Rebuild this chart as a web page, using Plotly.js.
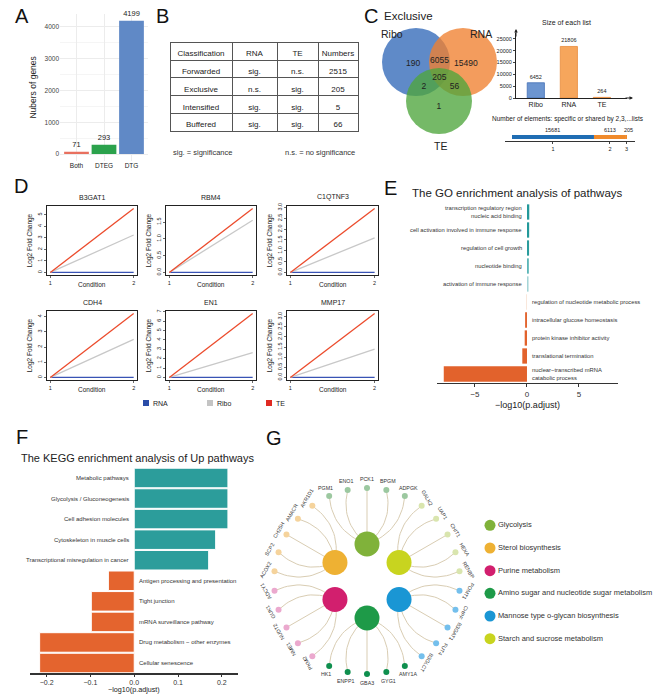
<!DOCTYPE html>
<html><head><meta charset="utf-8">
<script src="https://cdn.plot.ly/plotly-3.0.1.min.js"></script>
<style>html,body{margin:0;padding:0;background:#fff}#chart{width:655px;height:695px}</style>
</head><body><div id="chart"></div>
<script>
const W=655,H=695;
const FONT='Liberation Sans, Arial, Helvetica, sans-serif';

// ---------- Panel A data
const catsA=['Both','DTEG','DTG'];
const valsA=[71,293,4199];
// ---------- Panel B data
const tableHeader=['Classification','RNA','TE','Numbers'];
const tableClass=['Forwarded','Exclusive','Intensified','Buffered'];
const tableRNA=['sig.','n.s.','sig.','sig.'];
const tableTE=['n.s.','sig.','sig.','sig.'];
const tableNum=[2515,205,5,66];
// ---------- Panel C data
const vennSets=['Ribo','RNA','TE'];
const vennRegionSets=[[0],[0,1],[1],[0,1,2],[0,2],[1,2],[2]];
const vennCounts=[190,6055,15490,205,2,56,1];
const listNames=['Ribo','RNA','TE'];
const listSizes=[6452,21806,264];
const sharedLabels=['1','2','3'];
const sharedCounts=[15681,6113,205];
// ---------- Panel D data
const dGenes=['B3GAT1','RBM4','C1QTNF3','CDH4','EN1','MMP17'];
const dCond=[1,2];
const dRNA=[[0,0],[0,0],[0,0],[0,0],[0,0],[0,0]];
const dRibo=[[0,3.25],[0,1.55],[0,1.6],[0,2.5],[0,2.65],[0,1.4]];
const dTE=[[0,5.55],[0,1.9],[0,2.95],[0,4.2],[0,6.8],[0,3.15]];
const dSeries=['RNA','Ribo','TE'];
// ---------- Panel E data
const goTerms=['transcription regulatory region<br>nucleic acid binding','cell activation involved in immune response','regulation of cell growth','nucleotide binding','activation of immune response','regulation of nucleotide metabolic process','intracellular glucose homeostasis','protein kinase inhibitor activity','translational termination','nuclear−transcribed mRNA<br>catabolic process'];
const goVals=[0.22,0.21,0.2,0.18,0.15,-0.06,-0.18,-0.22,-0.45,-8.0];
// ---------- Panel F data
const keggTerms=['Metabolic pathways','Glycolysis / Gluconeogenesis','Cell adhesion molecules','Cytoskeleton in muscle cells','Transcriptional misregulation in cancer','Antigen processing and presentation','Tight junction','mRNA surveillance pathway','Drug metabolism − other enzymes','Cellular senescence'];
const keggVals=[0.214,0.214,0.214,0.186,0.170,-0.059,-0.098,-0.098,-0.216,-0.216];
// ---------- Panel G data
const pathways=['Glycolysis','Sterol biosynthesis','Purine metabolism','Amino sugar and nucleotide sugar metabolism','Mannose type o-glycan biosynthesis','Starch and sucrose metabolism'];
const genes=['ADPGK','BPGM','PCK1','ENO1','PGM1','AKR1D1','AMACR','CH25H','SCP2','ACOX2','ADCY1','GUK1','NUDT2','NME1','PKM2','HK1','ENPP1','GBA3','GYG1','AMY1A','B3GLCT','FUT4','B3GAT1','CHPF','POMT1','RENBP','HEXA','CHIT1','UAP1','GALK2'];
const geneGroup=[0,0,0,0,0,1,1,1,1,1,2,2,2,2,2,3,3,3,3,3,4,4,4,4,4,5,5,5,5,5];

// ---------- styles
const colorsA=['#E8705F','#2BA24C','#6089C6'];
const hubColors=['#80B23A','#EEB133','#D21F6E','#1E9A48','#1A96D4','#C8D41F'];
const leafColors=['#9CC8A0','#F5D39C','#EBA9CE','#0F8F4E','#74BFEC','#D9E5AE'];
const groupLabelAngle=[0,-60,-120,0,120,60];
const dColors=['#3953B5','#C8C8C8','#EC4B2C'];
const goColors=['#23999A','#23999A','#2A9C9D','#5DB6B8','#A5D5D7','#F6D8C5','#E2622C','#E2622C','#E2622C','#E2622C'];

function DX(a,b){return [a/W,b/W];}
function DY(t,b){return [1-b/H,1-t/H];}
function PX(x){return x/W;}
function PY(y){return 1-y/H;}
const traces=[],shapes=[],ann=[];
const layout={width:W,height:H,margin:{l:0,r:0,t:0,b:0},paper_bgcolor:'#fff',plot_bgcolor:'rgba(0,0,0,0)',
  showlegend:false,font:{family:FONT,color:'#222'},barmode:'overlay'};
function A(o){const f=Object.assign({family:FONT,size:8,color:'#222'},o.font||{});delete o.font;
  ann.push(Object.assign({xref:'paper',yref:'paper',showarrow:false,font:f},o));}
function hidden(dom,rng){return {domain:dom,range:rng,visible:false,fixedrange:true};}

// panel letters
[['A',22,15.5],['B',162,15.5],['C',371,15.5],['D',21,186],['E',391,188],['F',22,437],['G',274,438]].forEach(l=>
  A({text:l[0],x:PX(l[1]),y:PY(l[2]),xanchor:'center',yanchor:'middle',font:{size:20,color:'#111'}}));

// ================= A
traces.push({type:'bar',x:catsA,y:valsA,marker:{color:colorsA},width:0.9,text:valsA.map(String),
  textposition:'outside',textfont:{size:7.5,color:'#222'},cliponaxis:false,xaxis:'x',yaxis:'y',hoverinfo:'skip'});
layout.xaxis={domain:DX(60,148),range:[-0.6,2.6],type:'category',showgrid:true,gridcolor:'#ececec',
  tickfont:{size:6.5,color:'#222'},ticks:'',zeroline:false,fixedrange:true,anchor:'y'};
layout.yaxis={domain:DY(14,160.7),range:[-210,4409],tickvals:[0,1000,2000,3000,4000],showgrid:true,gridcolor:'#ececec',
  minor:{tickvals:[500,1500,2500,3500],showgrid:true,gridcolor:'#f5f5f5'},tickfont:{size:6.5,color:'#444'},
  zeroline:false,title:{text:'Nubers of genes',font:{size:8.5,color:'#222'},standoff:6},anchor:'x',fixedrange:true};

// ================= B
traces.push({type:'table',domain:{x:DX(170,358),y:DY(42,136)},columnwidth:[62,45,41,40],
  header:{values:tableHeader,align:'center',height:18,line:{color:'#555',width:1},fill:{color:'#fff'},font:{family:FONT,size:8,color:'#222'}},
  cells:{values:[tableClass,tableRNA,tableTE,tableNum],align:'center',height:17.75,line:{color:'#555',width:1},fill:{color:'#fff'},font:{family:FONT,size:8,color:'#222'}}});
A({text:'sig. = significance',x:PX(171),y:PY(152),xanchor:'left',yanchor:'middle',font:{size:7.5,color:'#333'}});
A({text:'n.s. = no significance',x:PX(357),y:PY(152),xanchor:'right',yanchor:'middle',font:{size:7.5,color:'#333'}});

// ================= C venn
A({text:'Exclusive',x:PX(382),y:PY(15.5),xanchor:'left',yanchor:'middle',font:{size:11.5}});
const vc=[{x:416,y:62,r:34,f:'rgba(50,105,185,0.78)'},{x:463,y:62,r:34,f:'rgba(240,128,48,0.78)'},{x:439,y:101,r:33,f:'rgba(78,165,60,0.78)'}];
vc.forEach(c=>shapes.push({type:'circle',xref:'x2',yref:'y2',x0:c.x-c.r,x1:c.x+c.r,y0:c.y-c.r,y1:c.y+c.r,
  fillcolor:c.f,line:{width:0},layer:'below'}));
const cen={x:(vc[0].x+vc[1].x+vc[2].x)/3,y:(vc[0].y+vc[1].y+vc[2].y)/3};
const vx=[],vy=[];
vennRegionSets.forEach(s=>{
  let mx=0,my=0;s.forEach(i=>{mx+=vc[i].x;my+=vc[i].y;});mx/=s.length;my/=s.length;
  const k=s.length===1?0.12:(s.length===2?0.3:0);
  vx.push(mx+(mx-cen.x)*k);vy.push(my+(my-cen.y)*k+3);
});
traces.push({type:'scatter',mode:'text',x:vx,y:vy,text:vennCounts.map(String),textfont:{size:8.5,color:'#222'},xaxis:'x2',yaxis:'y2',hoverinfo:'skip'});
layout.xaxis2=hidden(DX(372,505),[372,505]);
layout.yaxis2=hidden(DY(22,155),[155,22]);
[[vennSets[0],392,34],[vennSets[1],481,34],[vennSets[2],440,146]].forEach(l=>
  A({text:l[0],x:l[1],y:l[2],xref:'x2',yref:'y2',xanchor:'center',yanchor:'middle',font:{size:10.5}}));

// C size of each list
const sizeTicks=[0,5000,10000,15000,20000,25000];
traces.push({type:'bar',x:listNames,y:listSizes,marker:{color:['#6C95D0','#F6A65C','#F6A65C'],line:{color:['#4470B5','#E98B3C','#E98B3C'],width:0.8}},
  width:0.52,text:listSizes.map(String),textposition:'outside',textfont:{size:5.5,color:'#222'},cliponaxis:false,xaxis:'x3',yaxis:'y3',hoverinfo:'skip'});
layout.xaxis3={domain:DX(516,627),range:[-0.6,2.76],type:'category',showline:true,linecolor:'#222',linewidth:1,ticks:'',
  tickfont:{size:7,color:'#222'},showgrid:false,zeroline:false,anchor:'y3',fixedrange:true};
layout.yaxis3={domain:DY(33,98),range:[0,27500],tickvals:sizeTicks,ticktext:sizeTicks.map(String),ticks:'outside',ticklen:2,
  tickfont:{size:5.5,color:'#222'},showline:true,linecolor:'#222',linewidth:1,showgrid:false,zeroline:false,anchor:'x3',fixedrange:true};
A({text:'',x:PX(516),y:PY(29),showarrow:true,ax:0,ay:9,arrowhead:2,arrowsize:0.7,arrowwidth:1,arrowcolor:'#222'});
A({text:'',x:PX(633),y:PY(98),showarrow:true,ax:-9,ay:0,arrowhead:2,arrowsize:0.7,arrowwidth:1,arrowcolor:'#222'});
A({text:'Size of each list',x:PX(566),y:PY(23),xanchor:'center',yanchor:'middle',font:{size:7}});

// C shared
const sharedBase=[];let acc=0;sharedCounts.forEach(v=>{sharedBase.push(acc);acc+=v;});
const sharedMid=sharedCounts.map((v,i)=>sharedBase[i]+v/2);
traces.push({type:'bar',orientation:'h',x:sharedCounts,base:sharedBase,y:[0,0,0],width:1,
  marker:{color:['#1F6DB3','#F08A2B','#F08A2B']},xaxis:'x4',yaxis:'y4',hoverinfo:'skip'});
layout.xaxis4={domain:DX(505,635),range:[-1339,23530],showline:true,linecolor:'#333',linewidth:1,tickvals:sharedMid,ticktext:sharedLabels,
  ticks:'outside',ticklen:2,tickfont:{size:5.5,color:'#222'},showgrid:false,zeroline:false,anchor:'y4',fixedrange:true};
layout.yaxis4=hidden(DY(133,141),[-1,1]);
sharedCounts.forEach((v,i)=>A({text:String(v),x:sharedMid[i]+(i===2?400:0),y:0.55,xref:'x4',yref:'y4',xanchor:'center',yanchor:'bottom',font:{size:5.5}}));
A({text:'Number of elements: specific or shared by 2,3,...lists',x:PX(568),y:PY(119),xanchor:'center',yanchor:'middle',font:{size:6.5}});

// ================= D
const dCols=[[47,137],[166,256],[287,378]];
const dRows=[[206,275],[311,380]];
dGenes.forEach((g,i)=>{
  const r=Math.floor(i/3),c=i%3,n=5+i;
  const xs='x'+n,ys='y'+n;
  const series=[dRNA[i],dRibo[i],dTE[i]];
  let m=0;series.forEach(s=>s.forEach(v=>{if(v>m)m=v;}));
  series.forEach((s,k)=>traces.push({type:'scatter',mode:'lines',x:dCond,y:s,line:{color:dColors[k],width:1.3},xaxis:xs,yaxis:ys,hoverinfo:'skip',name:dSeries[k]}));
  const dt=m<=3.5?0.5:1;
  layout['xaxis'+n]={domain:DX(dCols[c][0],dCols[c][1]),range:[0.96,2.04],tickvals:[1,2],ticks:'outside',ticklen:2,tickwidth:0.8,
    tickfont:{size:5.5,color:'#222'},showline:true,mirror:true,linecolor:'#222',linewidth:1,showgrid:false,zeroline:false,anchor:ys,fixedrange:true};
  layout['yaxis'+n]={domain:DY(dRows[r][0],dRows[r][1]),range:[-0.04*m,1.04*m],dtick:dt,tick0:0,tickformat:dt<1?'.1f':'d',tickangle:-90,
    ticks:'outside',ticklen:2,tickwidth:0.8,tickfont:{size:5.5,color:'#222'},showline:true,mirror:true,linecolor:'#222',linewidth:1,
    showgrid:false,zeroline:false,anchor:xs,fixedrange:true,title:{text:'Log2 Fold Change',font:{size:6.5,color:'#222'},standoff:3}};
  const cx=(dCols[c][0]+dCols[c][1])/2;
  A({text:g,x:PX(cx),y:PY(dRows[r][0]-9),xanchor:'center',yanchor:'middle',font:{size:7}});
  A({text:'Condition',x:PX(cx),y:PY(dRows[r][1]+9),xanchor:'center',yanchor:'middle',font:{size:6.5}});
});
[[146,'#2B4DA8'],[210,'#C4C4C4'],[269,'#E02A22']].forEach((s,k)=>{
  shapes.push({type:'rect',xref:'paper',yref:'paper',x0:PX(s[0]-3),x1:PX(s[0]+3),y0:PY(406),y1:PY(400),fillcolor:s[1],line:{width:0}});
  A({text:dSeries[k],x:PX(s[0]+5),y:PY(403),xanchor:'left',yanchor:'middle',font:{size:7}});
});

// ================= E
traces.push({type:'bar',orientation:'h',x:goVals,y:goVals.map((v,i)=>i),marker:{color:goColors},width:0.85,xaxis:'x11',yaxis:'y11',hoverinfo:'skip'});
layout.xaxis11={domain:DX(437,618),range:[-8.65,8.75],tickvals:[-5,0,5],ticktext:['−5','0','5'],ticks:'outside',ticklen:3,tickcolor:'#333',
  showline:true,linecolor:'#333',linewidth:1.2,tickfont:{size:8,color:'#333'},showgrid:false,zeroline:false,anchor:'y11',fixedrange:true,
  title:{text:'−log10(p.adjust)',font:{size:9,color:'#222'},standoff:4}};
layout.yaxis11=hidden(DY(203,383),[9.5,-0.5]);
goTerms.forEach((t,i)=>{const pos=goVals[i]>0;
  A({text:t,x:0,y:i,xref:'x11',yref:'y11',xanchor:pos?'right':'left',yanchor:'middle',xshift:pos?-3:3,align:pos?'right':'left',font:{size:5.8,color:'#333'}});});
A({text:'The GO enrichment analysis of pathways',x:PX(517),y:PY(193),xanchor:'center',yanchor:'middle',font:{size:11.5}});

// ================= F
traces.push({type:'bar',orientation:'h',x:keggVals,y:keggVals.map((v,i)=>i),marker:{color:keggVals.map(v=>v>0?'#2C9D9B':'#E4642E'),line:{color:'#fff',width:1}},
  width:0.95,xaxis:'x12',yaxis:'y12',hoverinfo:'skip'});
layout.xaxis12={domain:DX(30,238),range:[-0.238,0.237],tickvals:[-0.2,-0.1,0,0.1,0.2],ticktext:['−0.2','−0.1','0.0','0.1','0.2'],ticks:'outside',ticklen:2.5,
  tickcolor:'#333',showline:true,linecolor:'#333',linewidth:1.2,tickfont:{size:7,color:'#333'},showgrid:false,zeroline:false,anchor:'y12',fixedrange:true};
layout.yaxis12=hidden(DY(467.7,673.3),[9.5,-0.5]);
A({text:'−log10(p.adjust)',x:PX(134),y:PY(689),xanchor:'center',yanchor:'middle',font:{size:7.2}});
keggTerms.forEach((t,i)=>{const pos=keggVals[i]>0;
  A({text:t,x:0,y:i,xref:'x12',yref:'y12',xanchor:pos?'right':'left',yanchor:'middle',xshift:pos?-3:3,font:{size:6,color:'#333'}});});
A({text:'The KEGG enrichment analysis of Up pathways',x:PX(137),y:PY(458),xanchor:'center',yanchor:'middle',font:{size:11}});

// ================= G network
const gcx=367,gcy=581,RL=93,RH=37,RT=102;
const ang=k=>(66+12*k)*Math.PI/180;
const leafX=genes.map((g,k)=>gcx+RL*Math.cos(ang(k))), leafY=genes.map((g,k)=>gcy-RL*Math.sin(ang(k)));
const hubA=pathways.map((p,g)=>(90+60*g)*Math.PI/180);
const hubX=hubA.map(a=>gcx+RH*Math.cos(a)), hubY=hubA.map(a=>gcy-RH*Math.sin(a));
const ex=[],ey=[];
genes.forEach((g,k)=>{
  const h=geneGroup[k];const x0=leafX[k],y0=leafY[k],x2=hubX[h],y2=hubY[h];
  const off=(66+12*k)-(90+60*h);
  const mx=(x0+x2)/2,my=(y0+y2)/2,dx=x2-x0,dy=y2-y0,L=Math.hypot(dx,dy);
  let nx=-dy/L,ny=dx/L;
  const a=ang(k),tx=-Math.sin(a),ty=-Math.cos(a);
  if(nx*tx+ny*ty<0){nx=-nx;ny=-ny;}
  const s=off===0?0:0.32*Math.sign(off);
  const cx=mx+nx*s*L,cy=my+ny*s*L;
  for(let t=0;t<=1.0001;t+=0.05){const u=1-t;ex.push(u*u*x0+2*u*t*cx+t*t*x2);ey.push(u*u*y0+2*u*t*cy+t*t*y2);}
  ex.push(null);ey.push(null);
});
traces.push({type:'scatter',mode:'lines',x:ex,y:ey,line:{color:'#D9CDB3',width:1},xaxis:'x13',yaxis:'y13',hoverinfo:'skip'});
traces.push({type:'scatter',mode:'markers',x:leafX,y:leafY,marker:{size:6,color:geneGroup.map(g=>leafColors[g])},xaxis:'x13',yaxis:'y13',hoverinfo:'skip'});
traces.push({type:'scatter',mode:'markers',x:hubX,y:hubY,marker:{size:25,color:hubColors},xaxis:'x13',yaxis:'y13',hoverinfo:'skip'});
layout.xaxis13=hidden(DX(255,480),[255,480]);
layout.yaxis13=hidden(DY(470,690),[690,470]);
genes.forEach((g,k)=>{
  const a=ang(k);
  A({text:g,x:gcx+RT*Math.cos(a),y:gcy-RT*Math.sin(a),xref:'x13',yref:'y13',xanchor:'center',yanchor:'middle',
    textangle:groupLabelAngle[geneGroup[k]],font:{size:5.3,color:'#333'}});
});
// G legend
traces.push({type:'scatter',mode:'markers+text',x:pathways.map(()=>490),y:pathways.map((p,i)=>i),text:pathways,textposition:'middle right',
  marker:{size:11,color:hubColors},textfont:{size:7.5,color:'#333'},xaxis:'x14',yaxis:'y14',hoverinfo:'skip',cliponaxis:false});
layout.xaxis14=hidden(DX(484,655),[484,655]);
layout.yaxis14=hidden(DY(514,650),[5.5,-0.5]);

layout.shapes=shapes;layout.annotations=ann;
Plotly.newPlot('chart',traces,layout,{staticPlot:true,displayModeBar:false});
</script></body></html>
